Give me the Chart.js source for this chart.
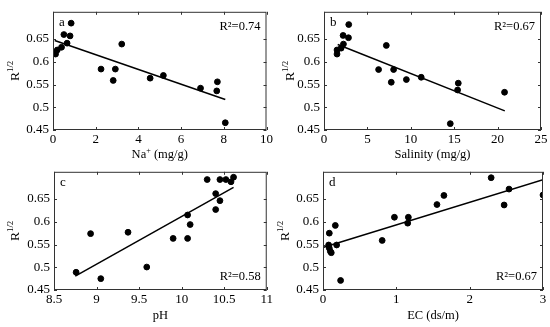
<!DOCTYPE html>
<html>
<head>
<meta charset="utf-8">
<script src="https://cdn.jsdelivr.net/npm/chart.js@4"></script>
<style>
  body { margin: 0; background: #fff; }
  #wrap { position: relative; width: 550px; height: 327px; overflow: hidden; }
  canvas { position: absolute; }
</style>
</head>
<body>
<div id="wrap">
  <canvas id="pa" width="275" height="165" style="left:0;top:0"></canvas>
  <canvas id="pb" width="275" height="165" style="left:275px;top:0"></canvas>
  <canvas id="pc" width="275" height="167" style="left:0;top:160px"></canvas>
  <canvas id="pd" width="275" height="167" style="left:275px;top:160px"></canvas>
</div>
<script>
// y axis shared by all panels
const yTicks = [0.45, 0.5, 0.55, 0.6, 0.65]

// a: Na+
const naX = [0.12, 0.2, 0.4, 0.51, 0.66, 0.8, 0.85, 2.25, 2.82, 2.92, 3.22, 4.55, 5.17, 6.91, 7.7, 7.67, 8.07]
const naY = [0.617, 0.626, 0.632, 0.66, 0.641, 0.657, 0.685, 0.584, 0.559, 0.584, 0.639, 0.564, 0.57, 0.542, 0.556, 0.536, 0.466]
const naFitX = [0.08, 8.07]
const naFitY = [0.647, 0.517]
const naTicks = [0, 2, 4, 6, 8, 10]

// b: salinity
const salX = [1.5, 1.5, 1.97, 2.2, 2.24, 2.85, 2.82, 7.18, 6.29, 8.02, 7.75, 9.49, 11.2, 15.47, 15.39, 14.55, 20.8]
const salY = [0.626, 0.617, 0.63, 0.658, 0.639, 0.682, 0.653, 0.636, 0.583, 0.583, 0.555, 0.561, 0.566, 0.553, 0.538, 0.464, 0.533]
const salFitX = [1.58, 20.83]
const salFitY = [0.638, 0.492]
const salTicks = [0, 5, 10, 15, 20, 25]

// c: pH
const phX = [8.76, 8.93, 9.05, 9.37, 9.59, 9.9, 10.07, 10.07, 10.1, 10.3, 10.4, 10.4, 10.45, 10.45, 10.52, 10.58, 10.61]
const phY = [0.489, 0.574, 0.475, 0.577, 0.5005, 0.5635, 0.5635, 0.615, 0.594, 0.693, 0.662, 0.627, 0.6465, 0.693, 0.693, 0.688, 0.698]
const phFitX = [8.75, 10.61]
const phFitY = [0.4805, 0.6756]
const phTicks = [8.5, 9, 9.5, 10, 10.5, 11]

// d: EC
const ecX = [0.086, 0.077, 0.086, 0.1, 0.113, 0.168, 0.186, 0.24, 0.807, 0.974, 1.164, 1.155, 1.554, 1.649, 2.293, 2.47, 2.537, 3.0]
const ecY = [0.575, 0.549, 0.542, 0.535, 0.532, 0.592, 0.549, 0.471, 0.559, 0.61, 0.61, 0.597, 0.638, 0.658, 0.697, 0.637, 0.672, 0.659]
const ecFitX = [0.01, 3.0]
const ecFitY = [0.544, 0.6925]
const ecTicks = [0, 1, 2, 3]

const FONT = "Liberation Serif"

// text with superscript pieces
function richWidth(ctx, parts, size) {
  let w = 0
  parts.forEach(p => {
    ctx.font = (p.sup ? size * 0.65 : size) + "px " + FONT
    w += ctx.measureText(p.t).width
  })
  return w
}
function drawRich(ctx, parts, x, y, size, align) {
  const w = richWidth(ctx, parts, size)
  let cx = align === "center" ? x - w / 2 : align === "right" ? x - w : x
  ctx.textBaseline = "middle"
  ctx.textAlign = "left"
  parts.forEach(p => {
    ctx.font = (p.sup ? size * 0.65 : size) + "px " + FONT
    ctx.fillText(p.t, cx, p.sup ? y - size * 0.35 : y)
    cx += ctx.measureText(p.t).width
  })
}

const framePlugin = {
  id: "frame",
  afterDraw(chart) {
    const o = chart.options.plugins.frame
    const { ctx, chartArea: a, scales: { x, y } } = chart
    ctx.save()
    ctx.strokeStyle = "#333"
    ctx.lineWidth = 1
    ctx.strokeRect(a.left + 0.5, a.top + 0.5, a.right - a.left - 1, a.bottom - a.top - 1)
    const tl = 3
    ctx.beginPath()
    x.ticks.forEach(t => {
      const px = Math.round(x.getPixelForValue(t.value)) + 0.5
      ctx.moveTo(px, a.bottom); ctx.lineTo(px, a.bottom - tl)
      ctx.moveTo(px, a.top); ctx.lineTo(px, a.top + tl)
    })
    y.ticks.forEach(t => {
      const py = Math.round(y.getPixelForValue(t.value)) + 0.5
      ctx.moveTo(a.left, py); ctx.lineTo(a.left + tl, py)
      ctx.moveTo(a.right, py); ctx.lineTo(a.right - tl, py)
    })
    ctx.stroke()

    ctx.fillStyle = "#000"
    // x title
    drawRich(ctx, o.xTitle, (a.left + a.right) / 2, o.xTitleY, 12.5, "center")
    // y title, rotated
    ctx.save()
    ctx.translate(o.yTitleX, (a.top + a.bottom) / 2)
    ctx.rotate(-Math.PI / 2)
    drawRich(ctx, [{ t: "R" }, { t: "1/2", sup: true }], 0, 0, 13.5, "center")
    ctx.restore()
    // panel letter
    drawRich(ctx, [{ t: o.letter }], a.left + 6, a.top + 11, 13, "left")
    // R squared
    const ry = o.r2Top ? a.top + 15 : a.bottom - 13
    drawRich(ctx, [{ t: "R\u00b2=" + o.r2 }], a.right - 6, ry, 12.5, "right")
    ctx.restore()
  }
}

function makePanel(id, px, py, fx, fy, ticks, xmin, xmax, opt) {
  const pts = px.map((v, i) => ({ x: v, y: py[i] }))
  const fit = fx.map((v, i) => ({ x: v, y: fy[i] }))
  return new Chart(document.getElementById(id), {
    type: "scatter",
    data: {
      datasets: [
        { data: pts, backgroundColor: "#000", borderColor: "#000", pointRadius: 2.9, pointHoverRadius: 2.9 },
        { data: fit, showLine: true, borderColor: "#000", borderWidth: 1.5, pointRadius: 0, fill: false },
      ],
    },
    options: {
      responsive: false,
      animation: false,
      layout: { padding: { top: 3, right: opt.padRight, left: 0, bottom: 0 } },
      plugins: {
        legend: { display: false },
        tooltip: { enabled: false },
        frame: opt,
      },
      scales: {
        x: {
          type: "linear",
          min: xmin,
          max: xmax,
          grid: { display: false, drawTicks: false },
          border: { display: false },
          afterBuildTicks: (s) => { s.ticks = ticks.map(v => ({ value: v })) },
          afterFit: (s) => { s.height = opt.xHeight },
          ticks: {
            padding: 2,
            color: "#000",
            font: { family: FONT, size: 13 },
            maxRotation: 0,
            autoSkip: false,
            callback: (v) => String(v),
          },
        },
        y: {
          type: "linear",
          min: 0.45,
          max: 0.71,
          grid: { display: false, drawTicks: false },
          border: { display: false },
          afterBuildTicks: (s) => { s.ticks = yTicks.map(v => ({ value: v })) },
          afterFit: (s) => { s.width = opt.yWidth },
          ticks: {
            padding: 4,
            color: "#000",
            font: { family: FONT, size: 13 },
            autoSkip: false,
            callback: (v) => String(v),
          },
        },
      },
    },
    plugins: [framePlugin],
  })
}

makePanel("pa", naX, naY, naFitX, naFitY, naTicks, 0, 10, {
  letter: "a", r2: "0.74", r2Top: true, yWidth: 53, padRight: 6, xHeight: 35,
  xTitle: [{ t: "Na" }, { t: "+", sup: true }, { t: " (mg/g)" }], xTitleY: 155, yTitleX: 15,
})
makePanel("pb", salX, salY, salFitX, salFitY, salTicks, 0, 25, {
  letter: "b", r2: "0.67", r2Top: true, yWidth: 49, padRight: 9, xHeight: 35,
  xTitle: [{ t: "Salinity (mg/g)" }], xTitleY: 155, yTitleX: 15,
})
makePanel("pc", phX, phY, phFitX, phFitY, phTicks, 8.5, 11, {
  letter: "c", r2: "0.58", r2Top: false, yWidth: 54, padRight: 6, xHeight: 37,
  xTitle: [{ t: "pH" }], xTitleY: 156, yTitleX: 15,
})
makePanel("pd", ecX, ecY, ecFitX, ecFitY, ecTicks, 0, 3, {
  letter: "d", r2: "0.67", r2Top: false, yWidth: 48, padRight: 7, xHeight: 37,
  xTitle: [{ t: "EC (ds/m)" }], xTitleY: 156, yTitleX: 10,
})
</script>
</body>
</html>
